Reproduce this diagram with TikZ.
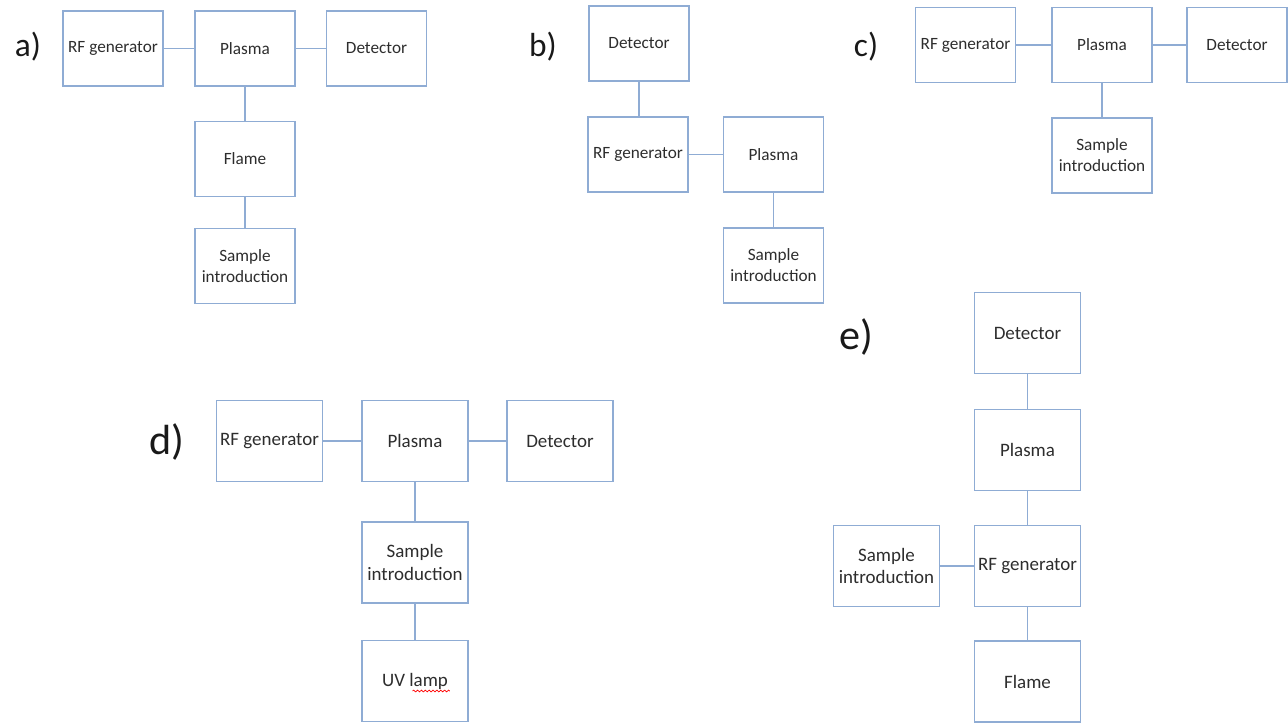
\documentclass[tikz,border=0pt]{standalone}
\usepackage{fontspec}
\setmainfont{Carlito}
\usetikzlibrary{decorations.pathmorphing}
\definecolor{boxblue}{RGB}{143,172,212}
\definecolor{textgray}{RGB}{45,45,45}
\tikzstyle{block} = [rectangle, draw=boxblue, line width=0.8pt, text=textgray, align=center, inner sep=1pt]
\tikzstyle{small} = [block, minimum width=2cm, minimum height=1.5cm, font=\fontsize{9.8}{12}\selectfont]
\tikzstyle{large} = [block, minimum width=2.12cm, minimum height=1.62cm, font=\fontsize{10.8}{12.6}\selectfont]
\tikzstyle{link} = [draw=boxblue, line width=0.8pt]
\tikzstyle{tag} = [font=\fontsize{19}{22}\selectfont, text=black!90]
\tikzstyle{bigtag} = [font=\fontsize{24}{28}\selectfont, text=black!90]
\tikzstyle{spell} = [draw=red, line width=0.4pt, decorate, decoration={snake, amplitude=0.5pt, segment length=2.2pt}]

\begin{document}
\begin{tikzpicture}[x=0.02cm, y=-0.02cm]

  \useasboundingbox (0,0) rectangle (1288,723);

  % a)
  \node (atag) [tag] at (28,47) {a)};
  \node (arf) [small] at (113,48.5) {RF generator};
  \node (aplasma) [small] at (245,48.5) {Plasma};
  \node (adet) [small] at (376.5,48.5) {Detector};
  \node (aflame) [small] at (245,159) {Flame};
  \node (asample) [small] at (245,266) {Sample\\introduction};
  \draw [link] (arf.east) -- (aplasma.west);
  \draw [link] (aplasma.east) -- (adet.west);
  \draw [link] (aplasma.south) -- (aflame.north);
  \draw [link] (aflame.south) -- (asample.north);

  % b)
  \node (btag) [tag] at (543,47) {b)};
  \node (bdet) [small] at (639,43.5) {Detector};
  \node (brf) [small] at (638,154.5) {RF generator};
  \node (bplasma) [small] at (773.5,154.5) {Plasma};
  \node (bsample) [small] at (773.5,265.5) {Sample\\introduction};
  \draw [link] (bdet.south) -- (bdet.south |- brf.north);
  \draw [link] (brf.east) -- (bplasma.west);
  \draw [link] (bplasma.south) -- (bsample.north);

  % c)
  \node (ctag) [tag] at (866,47) {c)};
  \node (crf) [small] at (965.5,45) {RF generator};
  \node (cplasma) [small] at (1102,45) {Plasma};
  \node (cdet) [small] at (1237,45) {Detector};
  \node (csample) [small] at (1102,155.5) {Sample\\introduction};
  \draw [link] (crf.east) -- (cplasma.west);
  \draw [link] (cplasma.east) -- (cdet.west);
  \draw [link] (cplasma.south) -- (csample.north);

  % d)
  \node (dtag) [bigtag] at (167,442) {d)};
  \node (drf) [large] at (269.5,441) {RF generator};
  \node (dplasma) [large] at (415,441) {Plasma};
  \node (ddet) [large] at (560,441) {Detector};
  \node (dsample) [large] at (415,562.5) {Sample\\introduction};
  \node (duv) [large] at (415,681) {UV lamp};
  \draw [link] (drf.east) -- (dplasma.west);
  \draw [link] (dplasma.east) -- (ddet.west);
  \draw [link] (dplasma.south) -- (dsample.north);
  \draw [link] (dsample.south) -- (duv.north);
  \draw [spell] ([xshift=-0.05cm, yshift=-0.2cm]duv.center) -- ([xshift=0.7cm, yshift=-0.2cm]duv.center);

  % e)
  \node (etag) [bigtag] at (856,337) {e)};
  \node (edet) [large] at (1027.5,333) {Detector};
  \node (eplasma) [large] at (1027.5,450) {Plasma};
  \node (erf) [large] at (1027.5,566) {RF generator};
  \node (esample) [large] at (886.5,566) {Sample\\introduction};
  \node (eflame) [large] at (1027.5,681.5) {Flame};
  \draw [link] (edet.south) -- (eplasma.north);
  \draw [link] (eplasma.south) -- (erf.north);
  \draw [link] (esample.east) -- (erf.west);
  \draw [link] (erf.south) -- (eflame.north);

\end{tikzpicture}
\end{document}
